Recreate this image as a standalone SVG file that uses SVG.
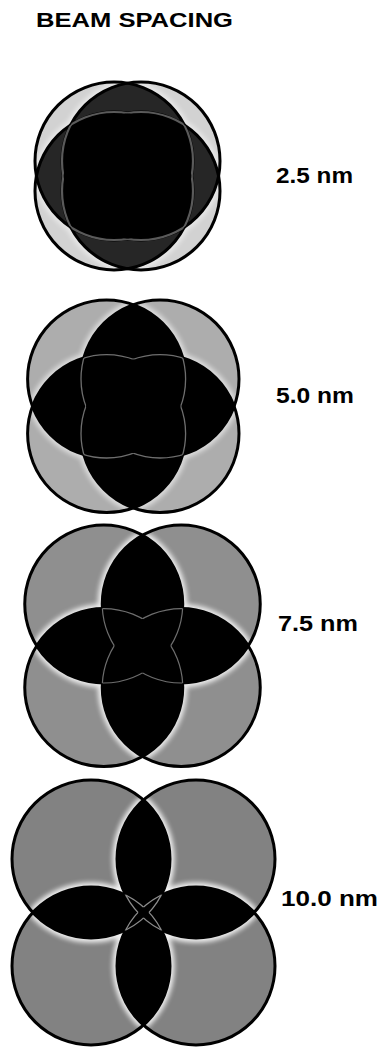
<svg xmlns="http://www.w3.org/2000/svg" xmlns:xlink="http://www.w3.org/1999/xlink" width="382" height="1047" viewBox="0 0 382 1047">
<style>
text{font-family:"Liberation Sans",Arial,Helvetica,sans-serif;font-weight:bold;fill:#000}
.gl{fill:none;stroke:#fff;stroke-width:9}
.bk{fill:#000}
.bk1{fill:#262626}
.ol{fill:none;stroke:#000;stroke-width:3}
.sm{fill:none}
.f1{fill:#d2d2d2}.f2{fill:#adadad}.f3{fill:#8f8f8f}.f4{fill:#828282}
.s1{stroke:#5a5a5a;stroke-width:2.2}
.s2{stroke:#6e6e6e;stroke-width:1.3}
.s3{stroke:#6e6e6e;stroke-width:1.2}
.s4{stroke:#8c8c8c;stroke-width:1.3}
</style>
<defs>
<filter id="blur" x="-10%" y="-10%" width="120%" height="120%"><feGaussianBlur stdDeviation="2.8"/></filter>
<circle id="c1a" cx="114" cy="161" r="79"/><circle id="c1b" cx="141" cy="161" r="79"/>
<circle id="c1c" cx="114" cy="191" r="79"/><circle id="c1d" cx="141" cy="191" r="79"/>
<circle id="c2a" cx="106.6" cy="379" r="79"/><circle id="c2b" cx="160" cy="379" r="79"/>
<circle id="c2c" cx="106.6" cy="433.6" r="79"/><circle id="c2d" cx="160" cy="433.6" r="79"/>
<circle id="c3a" cx="103.75" cy="604" r="79"/><circle id="c3b" cx="181.25" cy="604" r="79"/>
<circle id="c3c" cx="103.75" cy="687.6" r="79"/><circle id="c3d" cx="181.25" cy="687.6" r="79"/>
<circle id="c4a" cx="91" cy="859" r="79"/><circle id="c4b" cx="196" cy="859" r="79"/>
<circle id="c4c" cx="91" cy="966" r="79"/><circle id="c4d" cx="196" cy="966" r="79"/>

<clipPath id="k1a"><use href="#c1a"/></clipPath><clipPath id="k1b"><use href="#c1b"/></clipPath><clipPath id="k1c"><use href="#c1c"/></clipPath><clipPath id="k1d"><use href="#c1d"/></clipPath>
<clipPath id="k2a"><use href="#c2a"/></clipPath><clipPath id="k2b"><use href="#c2b"/></clipPath><clipPath id="k2c"><use href="#c2c"/></clipPath><clipPath id="k2d"><use href="#c2d"/></clipPath>
<clipPath id="k3a"><use href="#c3a"/></clipPath><clipPath id="k3b"><use href="#c3b"/></clipPath><clipPath id="k3c"><use href="#c3c"/></clipPath><clipPath id="k3d"><use href="#c3d"/></clipPath>
<clipPath id="k4a"><use href="#c4a"/></clipPath><clipPath id="k4b"><use href="#c4b"/></clipPath><clipPath id="k4c"><use href="#c4c"/></clipPath><clipPath id="k4d"><use href="#c4d"/></clipPath>
<clipPath id="k1u"><use href="#c1a"/><use href="#c1b"/><use href="#c1c"/><use href="#c1d"/></clipPath>
<clipPath id="k2u"><use href="#c2a"/><use href="#c2b"/><use href="#c2c"/><use href="#c2d"/></clipPath>
<clipPath id="k3u"><use href="#c3a"/><use href="#c3b"/><use href="#c3c"/><use href="#c3d"/></clipPath>
<clipPath id="k4u"><use href="#c4a"/><use href="#c4b"/><use href="#c4c"/><use href="#c4d"/></clipPath>

<mask id="m1a" maskUnits="userSpaceOnUse" x="0" y="0" width="382" height="1047"><rect width="382" height="1047" fill="#fff"/><use href="#c1a" fill="#000"/></mask>
<mask id="m1b" maskUnits="userSpaceOnUse" x="0" y="0" width="382" height="1047"><rect width="382" height="1047" fill="#fff"/><use href="#c1b" fill="#000"/></mask>
<mask id="m1c" maskUnits="userSpaceOnUse" x="0" y="0" width="382" height="1047"><rect width="382" height="1047" fill="#fff"/><use href="#c1c" fill="#000"/></mask>
<mask id="m1d" maskUnits="userSpaceOnUse" x="0" y="0" width="382" height="1047"><rect width="382" height="1047" fill="#fff"/><use href="#c1d" fill="#000"/></mask>
<mask id="m2a" maskUnits="userSpaceOnUse" x="0" y="0" width="382" height="1047"><rect width="382" height="1047" fill="#fff"/><use href="#c2a" fill="#000"/></mask>
<mask id="m2b" maskUnits="userSpaceOnUse" x="0" y="0" width="382" height="1047"><rect width="382" height="1047" fill="#fff"/><use href="#c2b" fill="#000"/></mask>
<mask id="m2c" maskUnits="userSpaceOnUse" x="0" y="0" width="382" height="1047"><rect width="382" height="1047" fill="#fff"/><use href="#c2c" fill="#000"/></mask>
<mask id="m2d" maskUnits="userSpaceOnUse" x="0" y="0" width="382" height="1047"><rect width="382" height="1047" fill="#fff"/><use href="#c2d" fill="#000"/></mask>
<mask id="m3a" maskUnits="userSpaceOnUse" x="0" y="0" width="382" height="1047"><rect width="382" height="1047" fill="#fff"/><use href="#c3a" fill="#000"/></mask>
<mask id="m3b" maskUnits="userSpaceOnUse" x="0" y="0" width="382" height="1047"><rect width="382" height="1047" fill="#fff"/><use href="#c3b" fill="#000"/></mask>
<mask id="m3c" maskUnits="userSpaceOnUse" x="0" y="0" width="382" height="1047"><rect width="382" height="1047" fill="#fff"/><use href="#c3c" fill="#000"/></mask>
<mask id="m3d" maskUnits="userSpaceOnUse" x="0" y="0" width="382" height="1047"><rect width="382" height="1047" fill="#fff"/><use href="#c3d" fill="#000"/></mask>
<mask id="m4a" maskUnits="userSpaceOnUse" x="0" y="0" width="382" height="1047"><rect width="382" height="1047" fill="#fff"/><use href="#c4a" fill="#000"/></mask>
<mask id="m4b" maskUnits="userSpaceOnUse" x="0" y="0" width="382" height="1047"><rect width="382" height="1047" fill="#fff"/><use href="#c4b" fill="#000"/></mask>
<mask id="m4c" maskUnits="userSpaceOnUse" x="0" y="0" width="382" height="1047"><rect width="382" height="1047" fill="#fff"/><use href="#c4c" fill="#000"/></mask>
<mask id="m4d" maskUnits="userSpaceOnUse" x="0" y="0" width="382" height="1047"><rect width="382" height="1047" fill="#fff"/><use href="#c4d" fill="#000"/></mask>
</defs>

<rect width="382" height="1047" fill="#fff"/>

<g id="title"><text x="36" y="27" font-size="20.5" textLength="197" lengthAdjust="spacingAndGlyphs">BEAM SPACING</text></g>

<!-- ===== 2.5 nm ===== -->
<g id="spacing-2-5nm">
<g class="f1"><use href="#c1a"/><use href="#c1b"/><use href="#c1c"/><use href="#c1d"/></g>
<g filter="url(#blur)" clip-path="url(#k1u)" opacity="0.5" class="gl">
<use href="#c1a" clip-path="url(#k1b)"/><use href="#c1a" clip-path="url(#k1c)"/><use href="#c1a" clip-path="url(#k1d)"/>
<use href="#c1b" clip-path="url(#k1a)"/><use href="#c1b" clip-path="url(#k1c)"/><use href="#c1b" clip-path="url(#k1d)"/>
<use href="#c1c" clip-path="url(#k1a)"/><use href="#c1c" clip-path="url(#k1b)"/><use href="#c1c" clip-path="url(#k1d)"/>
<use href="#c1d" clip-path="url(#k1a)"/><use href="#c1d" clip-path="url(#k1b)"/><use href="#c1d" clip-path="url(#k1c)"/>
</g>
<g class="bk1">
<use href="#c1a" clip-path="url(#k1b)"/><use href="#c1a" clip-path="url(#k1c)"/><use href="#c1a" clip-path="url(#k1d)"/>
<use href="#c1b" clip-path="url(#k1c)"/><use href="#c1b" clip-path="url(#k1d)"/><use href="#c1c" clip-path="url(#k1d)"/>
</g>
<g class="bk">
<g clip-path="url(#k1a)"><use href="#c1b" clip-path="url(#k1c)"/><use href="#c1b" clip-path="url(#k1d)"/><use href="#c1c" clip-path="url(#k1d)"/></g>
<g clip-path="url(#k1b)"><use href="#c1c" clip-path="url(#k1d)"/></g>
</g>
<g class="ol"><use href="#c1a"/><use href="#c1b"/><use href="#c1c"/><use href="#c1d"/></g>
<g class="sm s1">
<g clip-path="url(#k1c)"><use href="#c1a" clip-path="url(#k1d)" mask="url(#m1b)"/></g>
<g clip-path="url(#k1b)"><use href="#c1a" clip-path="url(#k1d)" mask="url(#m1c)"/></g>
<g clip-path="url(#k1b)"><use href="#c1a" clip-path="url(#k1c)" mask="url(#m1d)"/></g>
<g clip-path="url(#k1c)"><use href="#c1b" clip-path="url(#k1d)" mask="url(#m1a)"/></g>
<g clip-path="url(#k1a)"><use href="#c1b" clip-path="url(#k1d)" mask="url(#m1c)"/></g>
<g clip-path="url(#k1a)"><use href="#c1b" clip-path="url(#k1c)" mask="url(#m1d)"/></g>
<g clip-path="url(#k1b)"><use href="#c1c" clip-path="url(#k1d)" mask="url(#m1a)"/></g>
<g clip-path="url(#k1a)"><use href="#c1c" clip-path="url(#k1d)" mask="url(#m1b)"/></g>
<g clip-path="url(#k1a)"><use href="#c1c" clip-path="url(#k1b)" mask="url(#m1d)"/></g>
<g clip-path="url(#k1b)"><use href="#c1d" clip-path="url(#k1c)" mask="url(#m1a)"/></g>
<g clip-path="url(#k1a)"><use href="#c1d" clip-path="url(#k1c)" mask="url(#m1b)"/></g>
<g clip-path="url(#k1a)"><use href="#c1d" clip-path="url(#k1b)" mask="url(#m1c)"/></g>
</g>
<text x="276" y="183" font-size="21.5" textLength="77" lengthAdjust="spacingAndGlyphs">2.5 nm</text>
</g>

<!-- ===== 5.0 nm ===== -->
<g id="spacing-5-0nm">
<g class="f2"><use href="#c2a"/><use href="#c2b"/><use href="#c2c"/><use href="#c2d"/></g>
<g filter="url(#blur)" clip-path="url(#k2u)" opacity="0.6" class="gl">
<use href="#c2a" clip-path="url(#k2b)"/><use href="#c2a" clip-path="url(#k2c)"/><use href="#c2a" clip-path="url(#k2d)"/>
<use href="#c2b" clip-path="url(#k2a)"/><use href="#c2b" clip-path="url(#k2c)"/><use href="#c2b" clip-path="url(#k2d)"/>
<use href="#c2c" clip-path="url(#k2a)"/><use href="#c2c" clip-path="url(#k2b)"/><use href="#c2c" clip-path="url(#k2d)"/>
<use href="#c2d" clip-path="url(#k2a)"/><use href="#c2d" clip-path="url(#k2b)"/><use href="#c2d" clip-path="url(#k2c)"/>
</g>
<g class="bk">
<use href="#c2a" clip-path="url(#k2b)"/><use href="#c2a" clip-path="url(#k2c)"/><use href="#c2a" clip-path="url(#k2d)"/>
<use href="#c2b" clip-path="url(#k2c)"/><use href="#c2b" clip-path="url(#k2d)"/><use href="#c2c" clip-path="url(#k2d)"/>
</g>
<g class="ol"><use href="#c2a"/><use href="#c2b"/><use href="#c2c"/><use href="#c2d"/></g>
<g class="sm s2">
<g clip-path="url(#k2c)"><use href="#c2a" clip-path="url(#k2d)" mask="url(#m2b)"/></g>
<g clip-path="url(#k2b)"><use href="#c2a" clip-path="url(#k2d)" mask="url(#m2c)"/></g>
<g clip-path="url(#k2b)"><use href="#c2a" clip-path="url(#k2c)" mask="url(#m2d)"/></g>
<g clip-path="url(#k2c)"><use href="#c2b" clip-path="url(#k2d)" mask="url(#m2a)"/></g>
<g clip-path="url(#k2a)"><use href="#c2b" clip-path="url(#k2d)" mask="url(#m2c)"/></g>
<g clip-path="url(#k2a)"><use href="#c2b" clip-path="url(#k2c)" mask="url(#m2d)"/></g>
<g clip-path="url(#k2b)"><use href="#c2c" clip-path="url(#k2d)" mask="url(#m2a)"/></g>
<g clip-path="url(#k2a)"><use href="#c2c" clip-path="url(#k2d)" mask="url(#m2b)"/></g>
<g clip-path="url(#k2a)"><use href="#c2c" clip-path="url(#k2b)" mask="url(#m2d)"/></g>
<g clip-path="url(#k2b)"><use href="#c2d" clip-path="url(#k2c)" mask="url(#m2a)"/></g>
<g clip-path="url(#k2a)"><use href="#c2d" clip-path="url(#k2c)" mask="url(#m2b)"/></g>
<g clip-path="url(#k2a)"><use href="#c2d" clip-path="url(#k2b)" mask="url(#m2c)"/></g>
</g>
<text x="276" y="403" font-size="21.5" textLength="78" lengthAdjust="spacingAndGlyphs">5.0 nm</text>
</g>

<!-- ===== 7.5 nm ===== -->
<g id="spacing-7-5nm">
<g class="f3"><use href="#c3a"/><use href="#c3b"/><use href="#c3c"/><use href="#c3d"/></g>
<g filter="url(#blur)" clip-path="url(#k3u)" opacity="0.85" class="gl">
<use href="#c3a" clip-path="url(#k3b)"/><use href="#c3a" clip-path="url(#k3c)"/><use href="#c3a" clip-path="url(#k3d)"/>
<use href="#c3b" clip-path="url(#k3a)"/><use href="#c3b" clip-path="url(#k3c)"/><use href="#c3b" clip-path="url(#k3d)"/>
<use href="#c3c" clip-path="url(#k3a)"/><use href="#c3c" clip-path="url(#k3b)"/><use href="#c3c" clip-path="url(#k3d)"/>
<use href="#c3d" clip-path="url(#k3a)"/><use href="#c3d" clip-path="url(#k3b)"/><use href="#c3d" clip-path="url(#k3c)"/>
</g>
<g class="bk">
<use href="#c3a" clip-path="url(#k3b)"/><use href="#c3a" clip-path="url(#k3c)"/><use href="#c3a" clip-path="url(#k3d)"/>
<use href="#c3b" clip-path="url(#k3c)"/><use href="#c3b" clip-path="url(#k3d)"/><use href="#c3c" clip-path="url(#k3d)"/>
</g>
<g class="ol"><use href="#c3a"/><use href="#c3b"/><use href="#c3c"/><use href="#c3d"/></g>
<g class="sm s3">
<g clip-path="url(#k3c)"><use href="#c3a" clip-path="url(#k3d)" mask="url(#m3b)"/></g>
<g clip-path="url(#k3b)"><use href="#c3a" clip-path="url(#k3d)" mask="url(#m3c)"/></g>
<g clip-path="url(#k3b)"><use href="#c3a" clip-path="url(#k3c)" mask="url(#m3d)"/></g>
<g clip-path="url(#k3c)"><use href="#c3b" clip-path="url(#k3d)" mask="url(#m3a)"/></g>
<g clip-path="url(#k3a)"><use href="#c3b" clip-path="url(#k3d)" mask="url(#m3c)"/></g>
<g clip-path="url(#k3a)"><use href="#c3b" clip-path="url(#k3c)" mask="url(#m3d)"/></g>
<g clip-path="url(#k3b)"><use href="#c3c" clip-path="url(#k3d)" mask="url(#m3a)"/></g>
<g clip-path="url(#k3a)"><use href="#c3c" clip-path="url(#k3d)" mask="url(#m3b)"/></g>
<g clip-path="url(#k3a)"><use href="#c3c" clip-path="url(#k3b)" mask="url(#m3d)"/></g>
<g clip-path="url(#k3b)"><use href="#c3d" clip-path="url(#k3c)" mask="url(#m3a)"/></g>
<g clip-path="url(#k3a)"><use href="#c3d" clip-path="url(#k3c)" mask="url(#m3b)"/></g>
<g clip-path="url(#k3a)"><use href="#c3d" clip-path="url(#k3b)" mask="url(#m3c)"/></g>
</g>
<text x="278" y="631" font-size="21.5" textLength="80" lengthAdjust="spacingAndGlyphs">7.5 nm</text>
</g>

<!-- ===== 10.0 nm ===== -->
<g id="spacing-10-0nm">
<g class="f4"><use href="#c4a"/><use href="#c4b"/><use href="#c4c"/><use href="#c4d"/></g>
<g filter="url(#blur)" clip-path="url(#k4u)" opacity="0.9" class="gl">
<use href="#c4a" clip-path="url(#k4b)"/><use href="#c4a" clip-path="url(#k4c)"/><use href="#c4a" clip-path="url(#k4d)"/>
<use href="#c4b" clip-path="url(#k4a)"/><use href="#c4b" clip-path="url(#k4c)"/><use href="#c4b" clip-path="url(#k4d)"/>
<use href="#c4c" clip-path="url(#k4a)"/><use href="#c4c" clip-path="url(#k4b)"/><use href="#c4c" clip-path="url(#k4d)"/>
<use href="#c4d" clip-path="url(#k4a)"/><use href="#c4d" clip-path="url(#k4b)"/><use href="#c4d" clip-path="url(#k4c)"/>
</g>
<g class="bk">
<use href="#c4a" clip-path="url(#k4b)"/><use href="#c4a" clip-path="url(#k4c)"/><use href="#c4a" clip-path="url(#k4d)"/>
<use href="#c4b" clip-path="url(#k4c)"/><use href="#c4b" clip-path="url(#k4d)"/><use href="#c4c" clip-path="url(#k4d)"/>
</g>
<g class="ol"><use href="#c4a"/><use href="#c4b"/><use href="#c4c"/><use href="#c4d"/></g>
<g class="sm s4">
<g clip-path="url(#k4c)"><use href="#c4a" clip-path="url(#k4d)" mask="url(#m4b)"/></g>
<g clip-path="url(#k4b)"><use href="#c4a" clip-path="url(#k4d)" mask="url(#m4c)"/></g>
<g clip-path="url(#k4b)"><use href="#c4a" clip-path="url(#k4c)" mask="url(#m4d)"/></g>
<g clip-path="url(#k4c)"><use href="#c4b" clip-path="url(#k4d)" mask="url(#m4a)"/></g>
<g clip-path="url(#k4a)"><use href="#c4b" clip-path="url(#k4d)" mask="url(#m4c)"/></g>
<g clip-path="url(#k4a)"><use href="#c4b" clip-path="url(#k4c)" mask="url(#m4d)"/></g>
<g clip-path="url(#k4b)"><use href="#c4c" clip-path="url(#k4d)" mask="url(#m4a)"/></g>
<g clip-path="url(#k4a)"><use href="#c4c" clip-path="url(#k4d)" mask="url(#m4b)"/></g>
<g clip-path="url(#k4a)"><use href="#c4c" clip-path="url(#k4b)" mask="url(#m4d)"/></g>
<g clip-path="url(#k4b)"><use href="#c4d" clip-path="url(#k4c)" mask="url(#m4a)"/></g>
<g clip-path="url(#k4a)"><use href="#c4d" clip-path="url(#k4c)" mask="url(#m4b)"/></g>
<g clip-path="url(#k4a)"><use href="#c4d" clip-path="url(#k4b)" mask="url(#m4c)"/></g>
</g>
<text x="281" y="906" font-size="21.5" textLength="97" lengthAdjust="spacingAndGlyphs">10.0 nm</text>
</g>
</svg>
